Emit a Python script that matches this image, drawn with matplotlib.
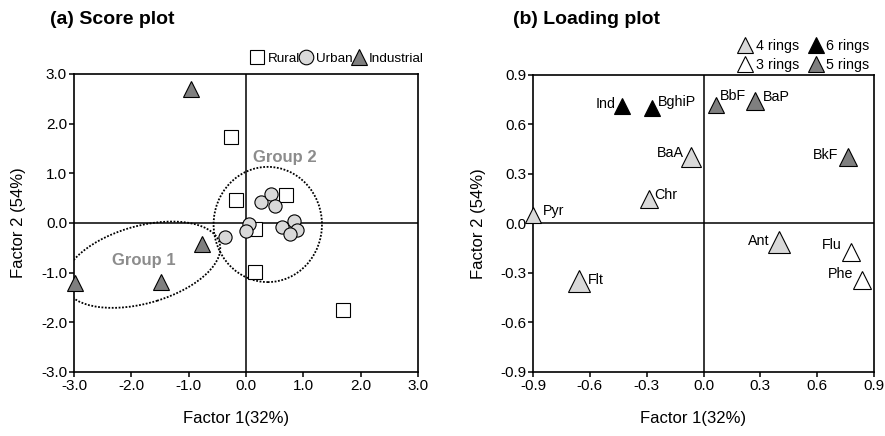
import matplotlib
matplotlib.use("Agg")
import matplotlib.pyplot as plt
from matplotlib.lines import Line2D
from matplotlib.patches import Ellipse

plt.rcParams['font.family'] = ['Liberation Sans', 'DejaVu Sans']
plt.rcParams['axes.unicode_minus'] = False

# ---- (a) score plot data
rural_x = [-0.26, -0.17, 0.70, 0.16, 0.16, 1.70]
rural_y = [1.74, 0.47, 0.56, -0.13, -0.99, -1.75]
urban_x = [-0.36, 0.05, 0.00, 0.27, 0.44, 0.51, 0.63, 0.83, 0.89, 0.76]
urban_y = [-0.28, -0.02, -0.17, 0.42, 0.59, 0.34, -0.08, 0.05, -0.15, -0.22]
indus_x = [-0.96, -0.76, -1.49, -2.98]
indus_y = [2.69, -0.42, -1.18, -1.20]

# ---- (b) loading plot data
pah_names = ['Ind', 'BghiP', 'BbF', 'BaP', 'BaA', 'BkF', 'Chr', 'Pyr',
             'Ant', 'Flu', 'Phe', 'Flt']
pah_x = [-0.43, -0.27, 0.065, 0.27, -0.067, 0.76, -0.29, -0.90,
         0.40, 0.78, 0.835, -0.66]
pah_y = [0.71, 0.70, 0.72, 0.74, 0.40, 0.40, 0.15, 0.05,
         -0.115, -0.175, -0.34, -0.35]
pah_rings = [6, 6, 5, 5, 4, 5, 4, 4, 4, 3, 3, 4]

ring_color = {3: 'white', 4: '#d9d9d9', 5: '#7f7f7f', 6: 'black'}
# marker size (pt) and label offset (pt) per point
pah_ms = [11.5, 12, 12, 13, 14, 12.5, 12.5, 11, 16.5, 13, 13, 16.5]
pah_off = [(-5, 2), (4, 4), (3, 6), (6, 3), (-5, 3), (-7, 2), (4, 3), (7, 3),
           (-7, 1), (-7, 5), (-6, 4), (7, 1)]
pah_ha = ['right', 'left', 'left', 'left', 'right', 'right', 'left', 'left',
          'right', 'right', 'right', 'left']

fig = plt.figure(figsize=(8.85, 4.36), dpi=100)
ax1 = fig.add_axes([0.0836, 0.1468, 0.3887, 0.6835])
ax2 = fig.add_axes([0.6023, 0.1468, 0.3853, 0.6812])

for ax in (ax1, ax2):
    for s in ax.spines.values():
        s.set_linewidth(1.2)
    ax.axhline(0, color='black', lw=1.1, zorder=1)
    ax.axvline(0, color='black', lw=1.1, zorder=1)
    ax.tick_params(direction='out', length=3.5, width=1.1, labelsize=11, pad=1.5)

# ---- (a)
ax1.set_xlim(-3, 3)
ax1.set_ylim(-3, 3)
ax1.set_xticks([-3, -2, -1, 0, 1, 2, 3])
ax1.set_yticks([-3, -2, -1, 0, 1, 2, 3])
ax1.xaxis.set_major_formatter('{x:.1f}')
ax1.yaxis.set_major_formatter('{x:.1f}')

ax1.add_patch(Ellipse((-1.81, -0.84), 2.84, 1.54, angle=19.7, fill=False,
                      ls=(0, (1, 0.9)), lw=1.3, color='black', zorder=2))
ax1.add_patch(Ellipse((0.38, -0.03), 1.89, 2.32, fill=False,
                      ls=(0, (1, 0.9)), lw=1.3, color='black', zorder=2))

ax1.plot(rural_x, rural_y, 's', ms=10, mfc='white', mec='black', mew=0.8, zorder=3)
ax1.plot(urban_x, urban_y, 'o', ms=9.5, mfc='#d9d9d9', mec='black', mew=0.8, zorder=3)
ax1.plot(indus_x, indus_y, '^', ms=11, mfc='#7f7f7f', mec='black', mew=0.8, zorder=3,
         clip_on=False)

ax1.text(0.68, 1.31, 'Group 2', color='#8c8c8c', fontsize=12, fontweight='bold',
         ha='center', va='center')
ax1.text(-1.79, -0.75, 'Group 1', color='#8c8c8c', fontsize=12, fontweight='bold',
         ha='center', va='center')

ax1.set_xlabel('Factor 1(32%)', fontsize=12)
ax1.set_ylabel('Factor 2 (54%)', fontsize=12)
ax1.xaxis.set_label_coords(0.47, -0.13)
ax1.yaxis.set_label_coords(-0.14, 0.5)
fig.text(50 / 885, 1 - 20 / 436, '(a) Score plot', fontsize=14, fontweight='bold',
         va='center', ha='left')

h1 = [Line2D([], [], ls='', marker='s', ms=10.5, mfc='white', mec='black', mew=0.8),
      Line2D([], [], ls='', marker='o', ms=10.5, mfc='#d9d9d9', mec='black', mew=0.8),
      Line2D([], [], ls='', marker='^', ms=11, mfc='#7f7f7f', mec='black', mew=0.8)]
ax1.legend(h1, ['Rural', 'Urban', 'Industrial'], ncol=3, frameon=False, fontsize=9.7,
           handlelength=0.8, handletextpad=0.35, columnspacing=0.05,
           loc='lower right', bbox_to_anchor=(1.02, 1.025), borderpad=0.1,
           borderaxespad=0.0)

# ---- (b)
ax2.set_xlim(-0.9, 0.9)
ax2.set_ylim(-0.9, 0.9)
ticks = [-0.9, -0.6, -0.3, 0.0, 0.3, 0.6, 0.9]
ax2.set_xticks(ticks)
ax2.set_yticks(ticks)
ax2.xaxis.set_major_formatter('{x:.1f}')
ax2.yaxis.set_major_formatter('{x:.1f}')

for name, x, y, r, ms, off, ha in zip(pah_names, pah_x, pah_y, pah_rings,
                                      pah_ms, pah_off, pah_ha):
    ax2.plot(x, y, '^', ms=ms, mfc=ring_color[r], mec='black', mew=0.8,
             zorder=3, clip_on=False)
    ax2.annotate(name, (x, y), xytext=off, textcoords='offset points',
                 ha=ha, va='center', fontsize=10.3)

ax2.set_xlabel('Factor 1(32%)', fontsize=12)
ax2.set_ylabel('Factor 2 (54%)', fontsize=12)
ax2.xaxis.set_label_coords(0.47, -0.13)
ax2.yaxis.set_label_coords(-0.137, 0.5)
fig.text(513 / 885, 1 - 20 / 436, '(b) Loading plot', fontsize=14, fontweight='bold',
         va='center', ha='left')

h2 = [Line2D([], [], ls='', marker='^', ms=11, mfc=ring_color[r], mec='black', mew=0.8)
      for r in (4, 3, 6, 5)]
ax2.legend(h2, ['4 rings', '3 rings', '6 rings', '5 rings'], ncol=2, frameon=False,
           fontsize=10.3, handlelength=0.8, handletextpad=0.3, columnspacing=0.8,
           labelspacing=0.35, loc='lower right', bbox_to_anchor=(0.99, 1.005),
           borderpad=0.1, borderaxespad=0.0)

fig.savefig('out.png', dpi=100)
